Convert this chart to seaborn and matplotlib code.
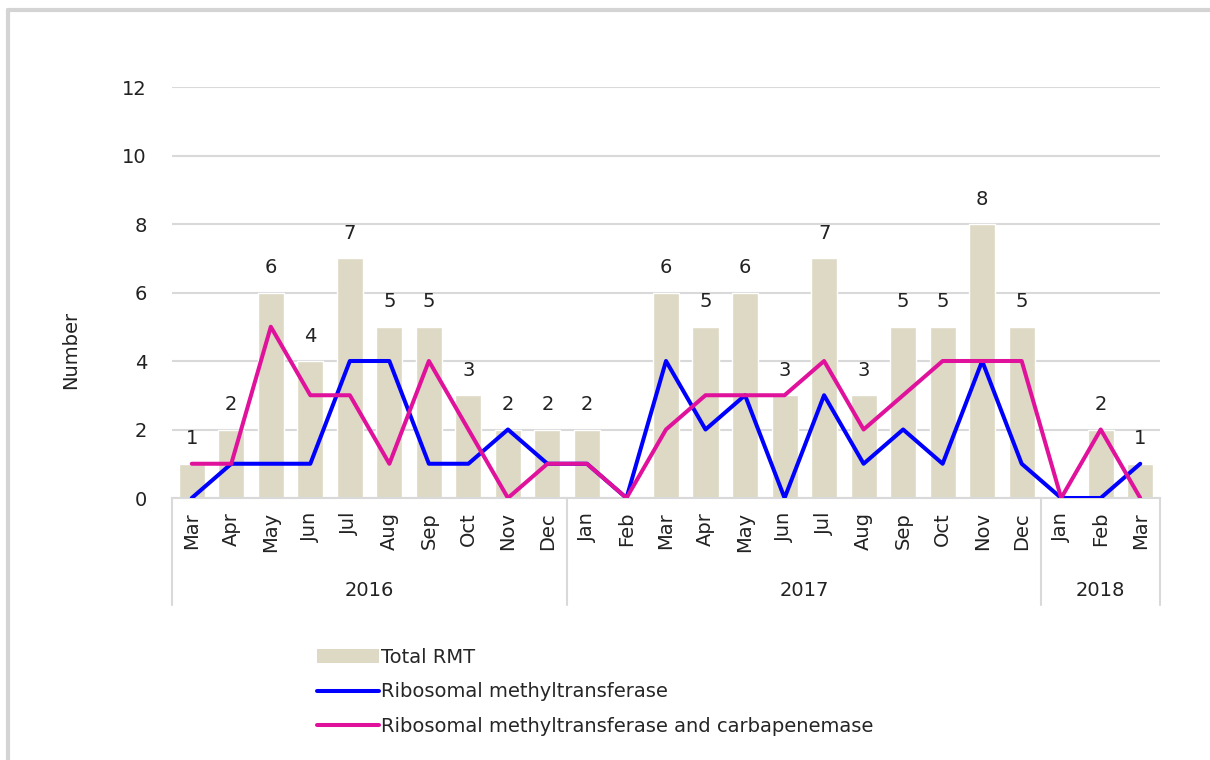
import numpy as np
import pandas as pd
import matplotlib
matplotlib.use("Agg")
import matplotlib.pyplot as plt
import seaborn as sns
from matplotlib.lines import Line2D
from matplotlib.patches import Patch

# monthly counts, Mar 2016 - Mar 2018
months = ["Mar", "Apr", "May", "Jun", "Jul", "Aug", "Sep", "Oct", "Nov", "Dec",
          "Jan", "Feb", "Mar", "Apr", "May", "Jun", "Jul", "Aug", "Sep", "Oct", "Nov", "Dec",
          "Jan", "Feb", "Mar"]
years = ["2016"] * 10 + ["2017"] * 12 + ["2018"] * 3
total_rmt = [1, 2, 6, 4, 7, 5, 5, 3, 2, 2,
             2, 0, 6, 5, 6, 3, 7, 3, 5, 5, 8, 5,
             0, 2, 1]
rmt_only = [0, 1, 1, 1, 4, 4, 1, 1, 2, 1,
            1, 0, 4, 2, 3, 0, 3, 1, 2, 1, 4, 1,
            0, 0, 1]
rmt_carb = [1, 1, 5, 3, 3, 1, 4, 2, 0, 1,
            1, 0, 2, 3, 3, 3, 4, 2, 3, 4, 4, 4,
            0, 2, 0]

BAR_COL = "#ddd9c4"
BLUE = "#0000ff"
MAGENTA = "#e0129c"
GRID = "#d9d9d9"
TXT = "#222222"

df = pd.DataFrame({"month": months, "year": years, "total": total_rmt,
                   "rmt": rmt_only, "carb": rmt_carb})
df["period"] = df["month"] + " " + df["year"]

sns.set_style("white")
plt.rcParams["font.family"] = ["DejaVu Sans"]
fs = 14

fig = plt.figure(figsize=(12.1, 7.6), dpi=100)
ax = fig.add_axes([172 / 1210, 1 - 498 / 760, (1160 - 172) / 1210, (498 - 87) / 760])

sns.barplot(data=df, x="period", y="total", color=BAR_COL, saturation=1,
            width=0.66, ax=ax, zorder=2)
sns.lineplot(data=df, x="period", y="rmt", color=BLUE, lw=2.9, ax=ax, zorder=3, sort=False)
sns.lineplot(data=df, x="period", y="carb", color=MAGENTA, lw=2.9, ax=ax, zorder=4, sort=False)

# value labels on the bars (zeros are not labelled)
for bar, v in zip(ax.patches, total_rmt):
    if v > 0:
        ax.annotate(str(v), (bar.get_x() + bar.get_width() / 2, v),
                    xytext=(0, 11), textcoords="offset points",
                    ha="center", va="bottom", fontsize=fs, color=TXT)

ax.set_ylim(0, 12)
ax.set_xlim(-0.5, len(months) - 0.5)
ax.set_yticks(range(0, 13, 2))
ax.yaxis.grid(True, color=GRID, lw=1.5)
ax.set_axisbelow(True)
for s in ["top", "right", "left"]:
    ax.spines[s].set_visible(False)
ax.spines["bottom"].set_color(GRID)
ax.spines["bottom"].set_linewidth(1.5)
ax.tick_params(axis="y", length=0, pad=18, labelsize=fs, labelcolor=TXT)
ax.set_xticks(range(len(months)))
ax.set_xticklabels(months, rotation=90, va="top", ha="center", fontsize=fs, color=TXT)
ax.tick_params(axis="x", length=0, pad=10)
ax.set_xlabel("")
ax.set_ylabel("Number", fontsize=fs, color=TXT)
ax.yaxis.set_label_coords(-92 / 988, (498 - 350) / 411)

# year groups with separators
trans = ax.get_xaxis_transform()
ymin_sep = -(605 - 498) / 411
for xb in [-0.5, 9.5, 21.5, 24.5]:
    ax.plot([xb, xb], [0, ymin_sep], transform=trans, color=GRID, lw=1.5, clip_on=False)
for yr, (a, b) in zip(["2016", "2017", "2018"], [(0, 9), (10, 21), (22, 24)]):
    ax.text((a + b) / 2, -(590 - 498) / 411, yr, transform=trans, ha="center", va="center",
            fontsize=fs, color=TXT)

handles = [Patch(facecolor=BAR_COL, edgecolor="none"),
           Line2D([], [], color=BLUE, lw=2.9),
           Line2D([], [], color=MAGENTA, lw=2.9)]
labels = ["Total RMT", "Ribosomal methyltransferase",
          "Ribosomal methyltransferase and carbapenemase"]
fig.legend(handles, labels, loc="upper left", bbox_to_anchor=(309 / 1210, 1 - 640 / 760),
           frameon=False, fontsize=fs, handlelength=3.2, handletextpad=0.1,
           labelspacing=0.8, borderaxespad=0)

# outer frame (top and left edges visible)
fig.add_artist(Line2D([8 / 1210, 8 / 1210], [0, 1 - 10 / 760], transform=fig.transFigure,
                      color="#d4d4d4", lw=3))
fig.add_artist(Line2D([8 / 1210, 1], [1 - 10 / 760, 1 - 10 / 760], transform=fig.transFigure,
                      color="#d4d4d4", lw=3))

fig.savefig("out.png", dpi=100)
